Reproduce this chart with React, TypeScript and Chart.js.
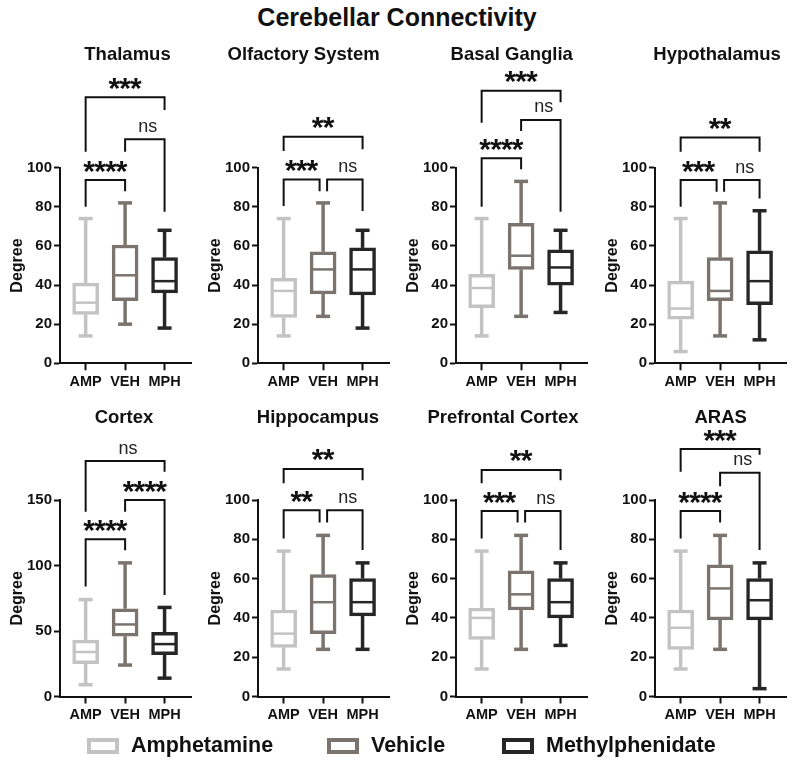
import React, { useEffect, useRef } from "react";
import { Chart, registerables } from "chart.js";

Chart.register(...registerables);

// ---------- data ----------
const groups = ["AMP", "VEH", "MPH"];
const groupNames = ["Amphetamine", "Vehicle", "Methylphenidate"];
const regions = [
  "Thalamus",
  "Olfactory System",
  "Basal Ganglia",
  "Hypothalamus",
  "Cortex",
  "Hippocampus",
  "Prefrontal Cortex",
  "ARAS",
];
const yMaxes = [100, 100, 100, 100, 150, 100, 100, 100];
const ySteps = [20, 20, 20, 20, 50, 20, 20, 20];

// five-number summaries: [min, q1, median, q3, max]
const ampStats = [
  [14, 25, 31, 41, 74],
  [14, 23.5, 37, 43.5, 74],
  [14, 28.5, 38.5, 45.5, 74],
  [6, 22.5, 28, 42, 74],
  [9, 25, 34, 43, 74],
  [14, 25, 32, 44, 74],
  [14, 29, 40, 45, 74],
  [14, 24, 35, 44, 74],
];
const vehStats = [
  [20, 32, 45, 60.5, 82],
  [24, 35.5, 48, 57, 82],
  [24, 48, 55, 71.5, 93],
  [14, 32, 37, 54, 82],
  [24, 46, 55, 67, 102],
  [24, 32, 48, 62, 82],
  [24, 44, 52, 64, 82],
  [24, 39, 55, 67, 82],
];
const mphStats = [
  [18, 36, 42, 54, 68],
  [18, 35, 48, 59, 68],
  [26, 40, 49, 58, 68],
  [12, 30, 42, 57.5, 78],
  [14, 32, 40, 49, 68],
  [24, 41, 48, 60, 68],
  [26, 40, 48, 60, 68],
  [4, 39, 49, 60, 68],
];

// significance brackets: [fromGroup, toGroup, barLevel, fromLegEnd, toLegEnd, label]
const thalamusBrackets = [
  [0, 1, 93.7, 80, 88, "****"],
  [1, 2, 114.5, 108.2, 77.5, "ns"],
  [0, 2, 136, 108.2, 129.5, "***"],
];
const olfactoryBrackets = [
  [0, 1, 94, 80.4, 88, "***"],
  [1, 2, 94, 88, 77.9, "ns"],
  [0, 2, 115.8, 108.5, 109.4, "**"],
];
const basalGangliaBrackets = [
  [0, 1, 104.8, 80, 99.2, "****"],
  [1, 2, 124.4, 118.8, 77.5, "ns"],
  [0, 2, 139.4, 123, 133.4, "***"],
];
const hypothalamusBrackets = [
  [0, 1, 93.7, 80, 87.7, "***"],
  [1, 2, 93.7, 87.7, 84.3, "ns"],
  [0, 2, 115.5, 108.2, 108.2, "**"],
];
const cortexBrackets = [
  [0, 1, 120, 84, 111.7, "****"],
  [1, 2, 150, 141, 77.4, "****"],
  [0, 2, 179.7, 141, 171.6, "ns"],
];
const hippocampusBrackets = [
  [0, 1, 94.8, 80.4, 88.5, "**"],
  [1, 2, 94.8, 88.5, 74.6, "ns"],
  [0, 2, 115.8, 108.5, 110, "**"],
];
const prefrontalBrackets = [
  [0, 1, 94.4, 80.4, 88.5, "***"],
  [1, 2, 94.4, 88.5, 74.6, "ns"],
  [0, 2, 115.3, 108.5, 110, "**"],
];
const arasBrackets = [
  [0, 1, 94.4, 80.4, 88.5, "****"],
  [1, 2, 113.9, 107, 74.6, "ns"],
  [0, 2, 125.9, 114.4, 123, "***"],
];
const bracketSets = [
  thalamusBrackets,
  olfactoryBrackets,
  basalGangliaBrackets,
  hypothalamusBrackets,
  cortexBrackets,
  hippocampusBrackets,
  prefrontalBrackets,
  arasBrackets,
];

// ---------- layout / style ----------
const FONT = '"Liberation Sans", Arial, Helvetica, sans-serif';
const groupColors = ["#c3c3c3", "#7b746e", "#262626"];
const colAxisX = [60, 258, 456, 655];
const AXIS_LEN = 131;
const CANVAS_W = 195;
const rowsLayout = [
  { top: 30, h: 365, yTopPx: 167.7, y0Px: 363.3, titleBase: 60 },
  { top: 395, h: 340, yTopPx: 500, y0Px: 696.5, titleBase: 423 },
];
const titleOffsets = [67.5, 45.6, 55.7, 62, 64, 60, 47, 65.7];

function Panel({ idx }: { idx: number }) {
  const ref = useRef<HTMLCanvasElement | null>(null);
  const row = idx < 4 ? 0 : 1;
  const col = idx % 4;
  const R = rowsLayout[row];

  useEffect(() => {
    if (!ref.current) return;
    const stats = [ampStats[idx], vehStats[idx], mphStats[idx]];
    const brackets = bracketSets[idx];

    const extras = {
      id: "boxExtras",
      afterDatasetsDraw(chart: any) {
        const { ctx, scales } = chart;
        const xs = scales.x;
        const ys = scales.y;
        ctx.save();
        const line = (x1: number, y1: number, x2: number, y2: number) => {
          ctx.beginPath();
          ctx.moveTo(x1, y1);
          ctx.lineTo(x2, y2);
          ctx.stroke();
        };
        stats.forEach((s, i) => {
          const cx = xs.getPixelForValue(i);
          ctx.strokeStyle = groupColors[i];
          ctx.lineCap = "butt";
          ctx.lineWidth = 3.5;
          line(cx, ys.getPixelForValue(s[3]), cx, ys.getPixelForValue(s[4]));
          line(cx, ys.getPixelForValue(s[1]), cx, ys.getPixelForValue(s[0]));
          line(cx - 7, ys.getPixelForValue(s[4]), cx + 7, ys.getPixelForValue(s[4]));
          line(cx - 7, ys.getPixelForValue(s[0]), cx + 7, ys.getPixelForValue(s[0]));
          ctx.lineWidth = 2.5;
          line(cx - 10.5, ys.getPixelForValue(s[2]), cx + 10.5, ys.getPixelForValue(s[2]));
        });
        ctx.restore();
      },
      afterDraw(chart: any) {
        const { ctx, scales, chartArea } = chart;
        const xs = scales.x;
        const ys = scales.y;
        ctx.save();
        // panel title
        ctx.fillStyle = "#111";
        ctx.font = `bold 18.5px ${FONT}`;
        ctx.textAlign = "center";
        ctx.textBaseline = "alphabetic";
        ctx.fillText(regions[idx], chartArea.left + titleOffsets[idx], R.titleBase - R.top);

        // brackets
        ctx.strokeStyle = "#111";
        ctx.lineWidth = 2;
        ctx.lineJoin = "miter";
        ctx.lineCap = "butt";
        brackets.forEach((b: any) => {
          const [from, to, h, legA, legB, label] = b;
          let x1 = xs.getPixelForValue(from);
          let x2 = xs.getPixelForValue(to);
          const shareRight = brackets.some(
            (c: any) => c !== b && Math.abs(c[2] - h) < 0.6 && c[0] === to
          );
          const shareLeft = brackets.some(
            (c: any) => c !== b && Math.abs(c[2] - h) < 0.6 && c[1] === from
          );
          if (shareRight) x2 -= 3.5;
          if (shareLeft) x1 += 4;
          const yh = ys.getPixelForValue(h);
          ctx.beginPath();
          ctx.moveTo(x1, ys.getPixelForValue(legA));
          ctx.lineTo(x1, yh);
          ctx.lineTo(x2, yh);
          ctx.lineTo(x2, ys.getPixelForValue(legB));
          ctx.stroke();

          const cx = (x1 + x2) / 2;
          ctx.fillStyle = "#111";
          ctx.textAlign = "center";
          ctx.textBaseline = "alphabetic";
          if (label === "ns") {
            ctx.font = `18px ${FONT}`;
            const m = ctx.measureText("ns");
            const off = (m.actualBoundingBoxAscent - m.actualBoundingBoxDescent) / 2;
            ctx.fillStyle = "#222";
            ctx.fillText("ns", cx + 3, yh - 12.5 + off);
          } else {
            ctx.font = `bold 30px ${FONT}`;
            const m = ctx.measureText("*");
            const off = (m.actualBoundingBoxAscent - m.actualBoundingBoxDescent) / 2;
            const n = label.length;
            for (let k = 0; k < n; k++) {
              ctx.fillText("*", cx + (k - (n - 1) / 2) * 10.8, yh - 13.5 + off);
            }
          }
        });
        ctx.restore();
      },
    };

    const tickFont = { family: FONT, size: 15, weight: "bold" as const };
    const xTickFont = { family: FONT, size: 14.5, weight: "bold" as const };
    const chart = new Chart(ref.current, {
      type: "bar",
      data: {
        datasets: [
          {
            data: stats.map((s, i) => ({ x: i, y: [s[1], s[3]] })) as any,
            backgroundColor: "#ffffff",
            borderColor: groupColors,
            borderWidth: 3.5,
            borderSkipped: false,
            barThickness: 26,
          } as any,
        ],
      },
      options: {
        animation: false,
        responsive: false,
        maintainAspectRatio: false,
        layout: {
          padding: {
            top: R.yTopPx - R.top,
            right: CANVAS_W - 60 - AXIS_LEN,
            left: 0,
            bottom: 0,
          },
        },
        plugins: {
          legend: { display: false },
          tooltip: { enabled: false },
          title: { display: false },
        },
        scales: {
          x: {
            type: "linear",
            min: -0.65,
            max: 2.67,
            offset: false,
            afterBuildTicks: (s: any) => {
              s.ticks = groups.map((_, i) => ({ value: i }));
            },
            afterFit: (s: any) => {
              s.height = R.top + R.h - R.y0Px;
            },
            ticks: {
              callback: (v: any) => groups[v] ?? "",
              font: xTickFont,
              color: "#111",
              padding: 3,
              autoSkip: false,
              maxRotation: 0,
            },
            grid: {
              offset: false,
              drawOnChartArea: false,
              drawTicks: true,
              tickLength: 7,
              tickWidth: 2,
              tickColor: "#111",
            },
            border: { color: "#111", width: 2 },
          },
          y: {
            min: 0,
            max: yMaxes[idx],
            afterFit: (s: any) => {
              s.width = 60;
            },
            ticks: {
              stepSize: ySteps[idx],
              font: tickFont,
              color: "#111",
              padding: 2,
            },
            grid: {
              drawOnChartArea: false,
              drawTicks: true,
              tickLength: 6,
              tickWidth: 2,
              tickColor: "#111",
            },
            border: { color: "#111", width: 2 },
            title: {
              display: true,
              text: "Degree",
              color: "#111",
              font: { family: FONT, size: 16, weight: "bold" },
              padding: { top: 8, bottom: 0 },
            },
          },
        },
      } as any,
      plugins: [extras],
    });
    return () => chart.destroy();
  }, [idx]);

  return (
    <canvas
      ref={ref}
      width={CANVAS_W}
      height={R.h}
      style={{
        position: "absolute",
        left: colAxisX[col] - 60,
        top: R.top,
        width: CANVAS_W,
        height: R.h,
      }}
    />
  );
}

const legendX = [87, 327, 502];

export default function App() {
  return (
    <div
      style={{
        position: "absolute",
        left: 0,
        top: 0,
        width: 794,
        height: 767,
        background: "#fff",
        fontFamily: FONT,
        overflow: "hidden",
      }}
    >
      <div
        style={{
          position: "absolute",
          left: 0,
          top: 3,
          width: 794,
          textAlign: "center",
          fontWeight: "bold",
          fontSize: 25,
          lineHeight: "28px",
          color: "#111",
        }}
      >
        Cerebellar Connectivity
      </div>
      {regions.map((_, i) => (
        <Panel key={i} idx={i} />
      ))}
      {groupNames.map((name, i) => (
        <React.Fragment key={name}>
          <div
            style={{
              position: "absolute",
              left: legendX[i],
              top: 738,
              width: 32,
              height: 16,
              boxSizing: "border-box",
              border: `4px solid ${groupColors[i]}`,
              background: "#fff",
            }}
          />
          <div
            style={{
              position: "absolute",
              left: legendX[i] + 44,
              top: 734,
              fontWeight: "bold",
              fontSize: 21.5,
              lineHeight: "22px",
              color: "#111",
              whiteSpace: "nowrap",
            }}
          >
            {name}
          </div>
        </React.Fragment>
      ))}
    </div>
  );
}
